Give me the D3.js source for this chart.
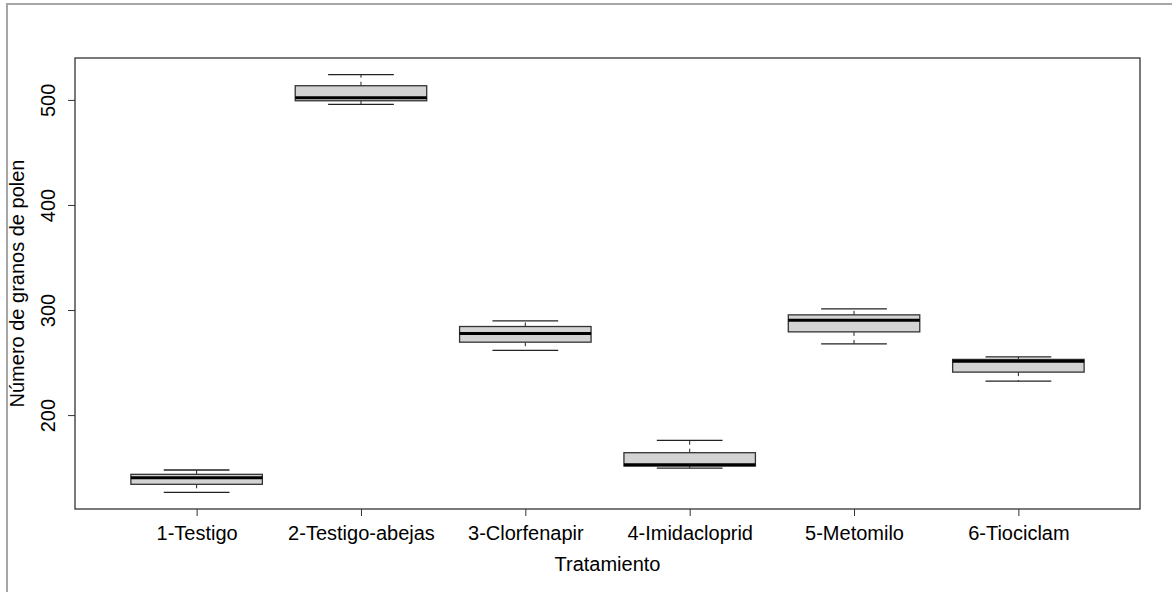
<!DOCTYPE html>
<html>
<head>
<meta charset="utf-8">
<script src="https://cdn.jsdelivr.net/npm/d3@7"></script>
<style>
  html, body { margin: 0; padding: 0; background: #fff; }
  svg { display: block; }
  text { font-family: "Liberation Sans", Arial, sans-serif; fill: #000; }
</style>
</head>
<body>
<svg id="chart" width="1172" height="592"></svg>
<script>
// Pollen grain counts per treatment (box-and-whisker summaries)
const categories  = ["1-Testigo", "2-Testigo-abejas", "3-Clorfenapir", "4-Imidacloprid", "5-Metomilo", "6-Tiociclam"];
const whiskerLow  = [126.5, 495.7, 261.5, 149.6, 267.8, 232.3];
const q1          = [134.1, 499.2, 269.4, 151.5, 279.2, 240.9];
const medians     = [140.4, 502.0, 277.7, 152.7, 290.3, 251.3];
const q3          = [143.6, 513.5, 284.3, 164.2, 295.4, 253.0];
const whiskerHigh = [147.7, 524.0, 289.7, 175.9, 301.1, 255.4];
const yTicks      = [200, 300, 400, 500];
const xTitle = "Tratamiento";
const yTitle = "Número de granos de polen";

const boxes = categories.map((c, i) => ({
  name: c, pos: i + 1,
  lo: whiskerLow[i], q1: q1[i], med: medians[i], q3: q3[i], hi: whiskerHigh[i]
}));

const svg = d3.select("#chart");
const plot = { left: 75, right: 1140, top: 58, bottom: 509 };
const fontPx = "20px";

// axis ranges padded by 4% on each side
const n = categories.length;
const xPad = n * 0.04;
const x = d3.scaleLinear().domain([0.5 - xPad, n + 0.5 + xPad]).range([plot.left, plot.right]);
const yMin = d3.min(whiskerLow), yMax = d3.max(whiskerHigh);
const yPad = (yMax - yMin) * 0.04;
const y = d3.scaleLinear().domain([yMin - yPad, yMax + yPad]).range([plot.bottom, plot.top]);

// outer frame of the device region
svg.append("path")
  .attr("d", "M7,592 L7,4 L1172,4")
  .attr("fill", "none").attr("stroke", "#a6a6a6").attr("stroke-width", 2);

const boxW = 0.8, capW = 0.4;
const g = svg.append("g");
const bx = g.selectAll("g.box").data(boxes).join("g").attr("class", "box");

// dashed whiskers
bx.append("line")
  .attr("x1", d => x(d.pos)).attr("x2", d => x(d.pos))
  .attr("y1", d => y(d.q3)).attr("y2", d => y(d.hi))
  .attr("stroke", "#222").attr("stroke-dasharray", "4,4").attr("stroke-width", 1);
bx.append("line")
  .attr("x1", d => x(d.pos)).attr("x2", d => x(d.pos))
  .attr("y1", d => y(d.q1)).attr("y2", d => y(d.lo))
  .attr("stroke", "#222").attr("stroke-dasharray", "4,4").attr("stroke-width", 1);
// whisker caps
bx.append("line")
  .attr("x1", d => x(d.pos - capW / 2)).attr("x2", d => x(d.pos + capW / 2))
  .attr("y1", d => y(d.hi)).attr("y2", d => y(d.hi))
  .attr("stroke", "#222").attr("stroke-width", 1.3);
bx.append("line")
  .attr("x1", d => x(d.pos - capW / 2)).attr("x2", d => x(d.pos + capW / 2))
  .attr("y1", d => y(d.lo)).attr("y2", d => y(d.lo))
  .attr("stroke", "#222").attr("stroke-width", 1.3);
// interquartile box
bx.append("rect")
  .attr("x", d => x(d.pos - boxW / 2))
  .attr("width", d => x(d.pos + boxW / 2) - x(d.pos - boxW / 2))
  .attr("y", d => y(d.q3))
  .attr("height", d => y(d.q1) - y(d.q3))
  .attr("fill", "#d3d3d3").attr("stroke", "#333").attr("stroke-width", 1.3);
// median
bx.append("line")
  .attr("x1", d => x(d.pos - boxW / 2)).attr("x2", d => x(d.pos + boxW / 2))
  .attr("y1", d => y(d.med)).attr("y2", d => y(d.med))
  .attr("stroke", "#000").attr("stroke-width", 3);

// plot frame
svg.append("rect")
  .attr("x", plot.left).attr("y", plot.top)
  .attr("width", plot.right - plot.left).attr("height", plot.bottom - plot.top)
  .attr("fill", "none").attr("stroke", "#333").attr("stroke-width", 1.3);

// x axis
const xAxis = svg.append("g")
  .attr("transform", `translate(0,${plot.bottom})`)
  .call(d3.axisBottom(x).tickValues(boxes.map(b => b.pos))
    .tickFormat(d => categories[d - 1]).tickSize(7).tickPadding(10));
xAxis.select(".domain").remove();
xAxis.selectAll(".tick line").attr("stroke", "#333");
xAxis.selectAll(".tick text").style("font-size", fontPx).attr("fill", "#000");

// y axis with labels rotated parallel to the axis
const yAxis = svg.append("g")
  .attr("transform", `translate(${plot.left},0)`)
  .call(d3.axisLeft(y).tickValues(yTicks).tickSize(7).tickFormat(d3.format("d")));
yAxis.select(".domain").remove();
yAxis.selectAll(".tick line").attr("stroke", "#333");
yAxis.selectAll(".tick text")
  .attr("x", null).attr("dy", null)
  .attr("text-anchor", "middle")
  .attr("transform", "translate(-20,0) rotate(-90)")
  .style("font-size", fontPx).attr("fill", "#000");

// axis titles
svg.append("text")
  .attr("x", (plot.left + plot.right) / 2).attr("y", 571)
  .attr("text-anchor", "middle").style("font-size", fontPx)
  .text(xTitle);
svg.append("text")
  .attr("transform", `translate(24,${(plot.top + plot.bottom) / 2}) rotate(-90)`)
  .attr("text-anchor", "middle").style("font-size", fontPx)
  .text(yTitle);
</script>
</body>
</html>
